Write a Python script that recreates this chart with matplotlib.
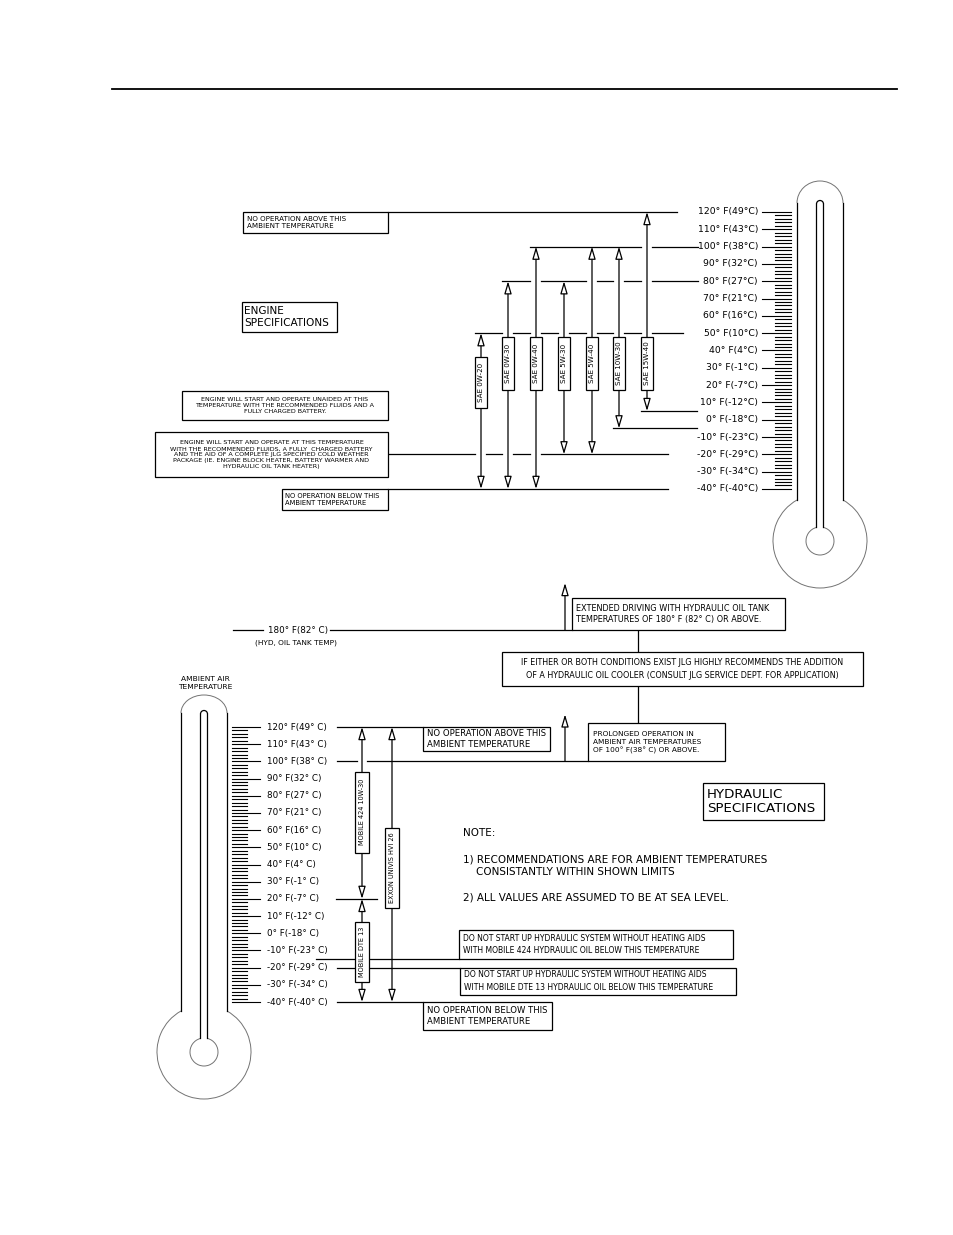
import matplotlib.pyplot as plt
from matplotlib.patches import Rectangle, Arc

# temperature scale (both thermometers)
temps_f = [120, 110, 100, 90, 80, 70, 60, 50, 40, 30, 20, 10, 0, -10, -20, -30, -40]
temps_c = [49, 43, 38, 32, 27, 21, 16, 10, 4, -1, -7, -12, -18, -23, -29, -34, -40]

# engine oils, usable range in deg F
engine_oils = ['SAE 0W-20', 'SAE 0W-30', 'SAE 0W-40', 'SAE 5W-30', 'SAE 5W-40', 'SAE 10W-30', 'SAE 15W-40']
engine_low = [-40, -40, -40, -20, -20, -5, 5]
engine_high = [50, 80, 100, 80, 100, 100, 120]

# hydraulic oils
hyd_oils = ['MOBILE 424 10W-30', 'EXXON UNIVIS HVI 26', 'MOBILE DTE 13']
hyd_low = [20, -40, -40]
hyd_high = [120, 120, 20]
tank_limit_f, tank_limit_c = 180, 82
ambient_limit = 100
cold_start_424 = -15
cold_start_dte13 = -20

# layout (pixels)
W, H = 954, 1235
eng_x = [481, 508, 536, 564, 592, 619, 647]
eng_box_mid = [21.5, 32.5, 32.5, 32.5, 32.5, 32.5, 32.5]
eng_box_len = [51, 53, 53, 53, 53, 53, 53]
hyd_x = [362, 392, 362]
hyd_box_mid = [70.5, 38, -11]
hyd_box_len = [81, 80, 60]
K_ENG, K_HYD = 1.731, 1.719   # px per deg F
TANK_Y = 630                  # 180F line is drawn off-scale above the thermometer
LW = 0.9

plt.rcParams['font.family'] = ['DejaVu Sans']

fig = plt.figure(figsize=(W / 100, H / 100), dpi=100)
base = fig.add_axes([0, 0, 1, 1], label='base')
base.set_xlim(0, W)
base.set_ylim(H, 0)
base.axis('off')


def temp_axes(name, y120, k):
    ax = fig.add_axes([0, 0, 1, 1], label=name)
    ax.set_xlim(0, W)
    ax.set_ylim(120 - (H - y120) / k, 120 + y120 / k)
    ax.axis('off')
    return ax


eng = temp_axes('engine', 212, K_ENG)
hyd = temp_axes('hydraulic', 727, K_HYD)


def hline(ax, t, x0, x1, cuts=(), gap=5):
    start = x0
    for c in sorted(c for c in cuts if x0 < c < x1):
        ax.plot([start, c - gap], [t, t], color='k', lw=LW)
        start = c + gap
    ax.plot([start, x1], [t, t], color='k', lw=LW)


def arrow(ax, x, lo, hi, style='<|-|>'):
    ax.annotate('', xy=(x, hi), xytext=(x, lo),
                arrowprops=dict(arrowstyle=style + ',head_length=0.75,head_width=0.22',
                                fc='white', ec='k', lw=LW, shrinkA=0, shrinkB=0))


def tbox(ax, x0, x1, y0, y1, text, size, ha='left', pad=4, ls=1.3, weight='normal'):
    ax.add_patch(Rectangle((x0, min(y0, y1)), x1 - x0, abs(y1 - y0),
                           fc='white', ec='k', lw=LW, zorder=3))
    xt = x0 + pad if ha == 'left' else (x0 + x1) / 2
    ax.text(xt, (y0 + y1) / 2, text, ha=ha, va='center', fontsize=size,
            linespacing=ls, zorder=4, fontweight=weight)


def oil_box(ax, x, mid, length, k, w, name, size):
    h = length / k
    ax.add_patch(Rectangle((x - w / 2, mid - h / 2), w, h, fc='white', ec='k', lw=LW, zorder=3))
    ax.text(x, mid, name, rotation=90, ha='center', va='center', fontsize=size, zorder=4)


def thermometer(cx, top, half_top, bulb_y):
    r, R, ri, rb = 23, 47, 3.5, 14
    dy = (R ** 2 - r ** 2) ** 0.5
    for x in (cx - r, cx + r):
        base.plot([x, x], [top, bulb_y - dy], color='k', lw=LW)
    base.add_patch(Arc((cx, top), 2 * r, 2 * half_top, theta1=180, theta2=360, color='0.45', lw=0.7))
    base.add_patch(Arc((cx, bulb_y), 2 * R, 2 * R, theta1=299.3, theta2=240.7, color='0.45', lw=0.7))
    dyi = (rb ** 2 - ri ** 2) ** 0.5
    for x in (cx - ri, cx + ri):
        base.plot([x, x], [top + 1, bulb_y - dyi], color='k', lw=LW)
    base.add_patch(Arc((cx, top + 1), 2 * ri, 2 * ri, theta1=180, theta2=360, color='k', lw=LW))
    base.add_patch(Arc((cx, bulb_y), 2 * rb, 2 * rb, theta1=284.4, theta2=255.6, color='0.45', lw=0.7))


# header rule
base.plot([112, 897], [89, 89], color='k', lw=1.3)

# ---------------- ENGINE ----------------
thermometer(820, 203, 22, 541)
ticks = [t for t in range(-40, 121, 2)]
for t in ticks:
    if t % 10 == 0:
        eng.plot([762, 791], [t, t], color='k', lw=0.8)
    else:
        eng.plot([775, 791], [t, t], color='k', lw=0.8)
for f, c in zip(temps_f, temps_c):
    eng.text(758, f, f'{f}° F({c}°C)', ha='right', va='center', fontsize=6.7)

for x, lo, hi in zip(eng_x, engine_low, engine_high):
    arrow(eng, x, lo, hi)
for x, mid, ln, name in zip(eng_x, eng_box_mid, eng_box_len, engine_oils):
    oil_box(eng, x, mid, ln, K_ENG, 12, name, 5.1)

eng_ends = {120: (388, 677), 100: (None, 698), 80: (None, 698), 50: (None, 683),
            5: (None, 697), 0: (182, 683), -5: (None, 697), -20: (388, 668), -40: (388, 668)}
for t in sorted(set(engine_low + engine_high)):
    x0, x1 = eng_ends[t]
    if x0 is None:
        x0 = min(x for x, lo, hi in zip(eng_x, engine_low, engine_high) if t in (lo, hi)) - 6
    cuts = [x for x, lo, hi in zip(eng_x, engine_low, engine_high) if lo < t < hi]
    hline(eng, t, x0, x1, cuts, gap=5.5)

tbox(eng, 243, 388, 120, 120 - 21 / K_ENG,
     'NO OPERATION ABOVE THIS\nAMBIENT TEMPERATURE', 5.1, pad=4, ls=1.25)
tbox(eng, 182, 388, 0, 0 + 29 / K_ENG,
     'ENGINE WILL START AND OPERATE UNAIDED AT THIS\nTEMPERATURE WITH THE RECOMMENDED FLUIDS AND A\n'
     'FULLY CHARGED BATTERY.', 4.6, ha='center', ls=1.3)
tbox(eng, 155, 388, -20 + 22 / K_ENG, -20 - 23 / K_ENG,
     'ENGINE WILL START AND OPERATE AT THIS TEMPERATURE\nWITH THE RECOMMENDED FLUIDS, A FULLY  CHARGED BATTERY\n'
     'AND THE AID OF A COMPLETE JLG SPECIFIED COLD WEATHER\nPACKAGE (IE. ENGINE BLOCK HEATER, BATTERY WARMER AND\n'
     'HYDRAULIC OIL TANK HEATER)', 4.6, ha='center', ls=1.25)
tbox(eng, 282, 388, -40, -40 - 21 / K_ENG,
     'NO OPERATION BELOW THIS\nAMBIENT TEMPERATURE', 4.9, pad=3, ls=1.25)
tbox(base, 242, 337, 302, 332, 'ENGINE\nSPECIFICATIONS', 7.6, pad=2, ls=1.15)

# ---------------- HYDRAULIC ----------------
thermometer(204, 713, 18, 1052)
base.text(205, 683, 'AMBIENT AIR\nTEMPERATURE', ha='center', va='center', fontsize=5.4, linespacing=1.35)
for t in ticks:
    if t % 10 == 0:
        hyd.plot([232, 260], [t, t], color='k', lw=0.8)
    else:
        hyd.plot([232, 247], [t, t], color='k', lw=0.8)
for f, c in zip(temps_f, temps_c):
    hyd.text(267, f, f'{f}° F({c}° C)', ha='left', va='center', fontsize=6.3)

for x, lo, hi in zip(hyd_x, hyd_low, hyd_high):
    arrow(hyd, x, lo, hi)
for x, mid, ln, name in zip(hyd_x, hyd_box_mid, hyd_box_len, hyd_oils):
    oil_box(hyd, x, mid, ln, K_HYD, 14, name, 4.7)

top_hyd = max(hyd_high)
low_hyd = min(hyd_low)
hline(hyd, top_hyd, 337, 423)
tbox(hyd, 423, 550, top_hyd, top_hyd - 24 / K_HYD,
     'NO OPERATION ABOVE THIS\nAMBIENT TEMPERATURE', 6.1, pad=4, ls=1.3)
hline(hyd, low_hyd, 337, 423)
tbox(hyd, 423, 552, low_hyd, low_hyd - 28 / K_HYD,
     'NO OPERATION BELOW THIS\nAMBIENT TEMPERATURE', 6.1, pad=4, ls=1.3)
hline(hyd, hyd_low[0], 336, 377)

# ambient limit
hline(hyd, ambient_limit, 337, 588, cuts=[hyd_x[0]], gap=5)
arrow(hyd, 565, ambient_limit, ambient_limit + 47 / K_HYD, style='-|>')
tbox(hyd, 588, 725, ambient_limit, ambient_limit + 38 / K_HYD,
     'PROLONGED OPERATION IN\nAMBIENT AIR TEMPERATURES\nOF 100° F(38° C) OR ABOVE.', 5.3, pad=5, ls=1.35)

# tank temperature limit (off-scale line)
base.plot([233, 263], [TANK_Y, TANK_Y], color='k', lw=LW)
base.text(298, TANK_Y, f'{tank_limit_f}° F({tank_limit_c}° C)', ha='center', va='center', fontsize=6.3)
base.text(296, TANK_Y + 13, '(HYD, OIL TANK TEMP)', ha='center', va='center', fontsize=5.3)
base.plot([330, 572], [TANK_Y, TANK_Y], color='k', lw=LW)
base.annotate('', xy=(565, TANK_Y - 47), xytext=(565, TANK_Y),
              arrowprops=dict(arrowstyle='-|>,head_length=0.75,head_width=0.22',
                              fc='white', ec='k', lw=LW, shrinkA=0, shrinkB=0))
tbox(base, 572, 785, TANK_Y - 32, TANK_Y,
     'EXTENDED DRIVING WITH HYDRAULIC OIL TANK\nTEMPERATURES OF 180° F (82° C) OR ABOVE.', 5.9, pad=4, ls=1.35)

base.plot([638, 638], [TANK_Y, 652], color='k', lw=LW)
tbox(base, 502, 863, 652, 686,
     'IF EITHER OR BOTH CONDITIONS EXIST JLG HIGHLY RECOMMENDS THE ADDITION\n'
     'OF A HYDRAULIC OIL COOLER (CONSULT JLG SERVICE DEPT. FOR APPLICATION)', 5.8, ha='center', ls=1.7)
base.plot([638, 638], [686, 722], color='k', lw=LW)

# cold start limits
hline(hyd, cold_start_424, 316, 459)
tbox(hyd, 459, 733, cold_start_424, cold_start_424 + 29 / K_HYD,
     'DO NOT START UP HYDRAULIC SYSTEM WITHOUT HEATING AIDS\nWITH MOBILE 424 HYDRAULIC OIL BELOW THIS TEMPERATURE',
     5.5, pad=4, ls=1.5)
hline(hyd, cold_start_dte13, 337, 460)
tbox(hyd, 460, 736, cold_start_dte13, cold_start_dte13 - 27 / K_HYD,
     'DO NOT START UP HYDRAULIC SYSTEM WITHOUT HEATING AIDS\nWITH MOBILE DTE 13 HYDRAULIC OIL BELOW THIS TEMPERATURE',
     5.5, pad=4, ls=1.5)

tbox(base, 703, 824, 783, 820, 'HYDRAULIC\nSPECIFICATIONS', 9.6, pad=4, ls=1.1)

base.text(463, 833, 'NOTE:', fontsize=7.5, va='center')
base.text(463, 859, '1) RECOMMENDATIONS ARE FOR AMBIENT TEMPERATURES', fontsize=7.5, va='center')
base.text(476, 872, 'CONSISTANTLY WITHIN SHOWN LIMITS', fontsize=7.5, va='center')
base.text(463, 897, '2) ALL VALUES ARE ASSUMED TO BE AT SEA LEVEL.', fontsize=7.5, va='center')

fig.savefig('out.png', dpi=100)
